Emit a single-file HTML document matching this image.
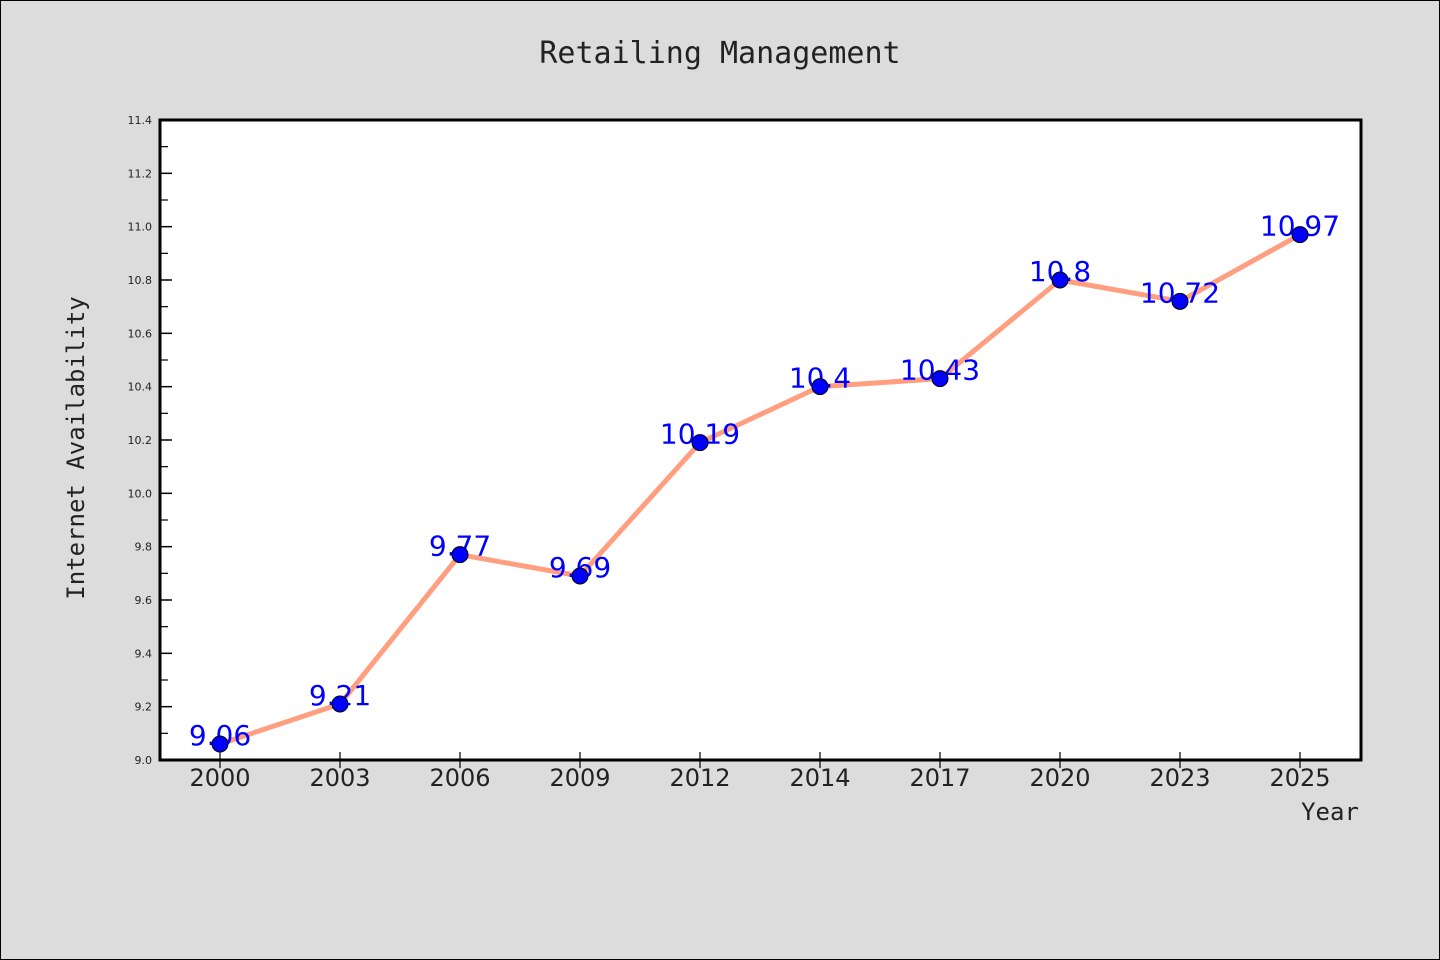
<!DOCTYPE html>
<html><head><meta charset="utf-8"><style>
body{margin:0;background:#dcdcdc;}
svg{display:block;}
</style></head><body>
<svg width="1440" height="960" xmlns="http://www.w3.org/2000/svg">
<rect x="0.5" y="0.5" width="1439" height="959" fill="#dcdcdc" stroke="#000"/>
<text x="720" y="63" text-anchor="middle" font-family="'DejaVu Sans Mono','Liberation Mono',monospace" font-size="30" fill="#222">Retailing Management</text>
<rect x="160" y="120" width="1201" height="640" fill="#fff"/>
<g id="axes"></g>
<g id="marks"></g>
<rect x="160" y="120" width="1201" height="640" fill="none" stroke="#000" stroke-width="3"/>
<text x="1330" y="820" text-anchor="middle" font-family="'DejaVu Sans Mono','Liberation Mono',monospace" font-size="24" fill="#222">Year</text>
<text transform="translate(84,448) rotate(-90)" text-anchor="middle" font-family="'DejaVu Sans Mono','Liberation Mono',monospace" font-size="24" fill="#222">Internet Availability</text>
</svg>
<script>
const categories=["2000","2003","2006","2009","2012","2014","2017","2020","2023","2025"];
const values=[9.06,9.21,9.77,9.69,10.19,10.4,10.43,10.8,10.72,10.97];
const labels=["9.06","9.21","9.77","9.69","10.19","10.4","10.43","10.8","10.72","10.97"];
const yTicks=["9.0","9.2","9.4","9.6","9.8","10.0","10.2","10.4","10.6","10.8","11.0","11.2","11.4"];
const NS="http://www.w3.org/2000/svg";
const yMin=9.0,yMax=11.4,yTop=120,yBot=760;
function y(v){return yBot-(v-yMin)/(yMax-yMin)*(yBot-yTop);}
function x(i){return 220+i*120;}
function mk(t,a,p){const e=document.createElementNS(NS,t);for(const k in a)e.setAttribute(k,a[k]);p.appendChild(e);return e;}
const axes=document.getElementById('axes'),marks=document.getElementById('marks');
const tf="'WenQuanYi Zen Hei','DejaVu Sans',sans-serif";
yTicks.forEach((t,i)=>{const v=parseFloat(t);const yy=y(v);
 const l=mk('line',{x1:160,x2:172,y1:yy,y2:yy,stroke:'#000','stroke-width':1.5},axes);
 
 
 const tx=mk('text',{x:152,y:yy+4,'text-anchor':'end','font-family':tf,'font-size':11,fill:'#222'},axes);
 tx.textContent=t;
 
 
 if(i<yTicks.length-1){const ym=y(v+0.1);
  const m=mk('line',{x1:160,x2:168,y1:ym,y2:ym,stroke:'#000','stroke-width':1.2},axes);
  
  }
});
categories.forEach((c,i)=>{
 const l=mk('line',{x1:x(i),x2:x(i),y1:752,y2:768,stroke:'#000','stroke-width':1.2},axes);
 
 
 const tx=mk('text',{x:x(i),y:786,'text-anchor':'middle','font-family':tf,'font-size':24,fill:'#222'},axes);
 tx.textContent=c;
 
 
});
const pl=mk('polyline',{points:values.map((v,i)=>x(i)+','+y(v)).join(' '),fill:'none',stroke:'#ff9f7f','stroke-width':5,'stroke-linejoin':'round'},marks);


values.forEach((v,i)=>{
 const tx=mk('text',{x:x(i),y:y(v)+1,'text-anchor':'middle','font-family':tf,'font-size':28,fill:'#0000ff'},marks);
 tx.textContent=labels[i];
 
 
});
values.forEach((v,i)=>{
 const c=mk('circle',{cx:x(i),cy:y(v),r:8,fill:'#0000ff',stroke:'#000','stroke-width':1},marks);
 
 
});
</script>
</body></html>
